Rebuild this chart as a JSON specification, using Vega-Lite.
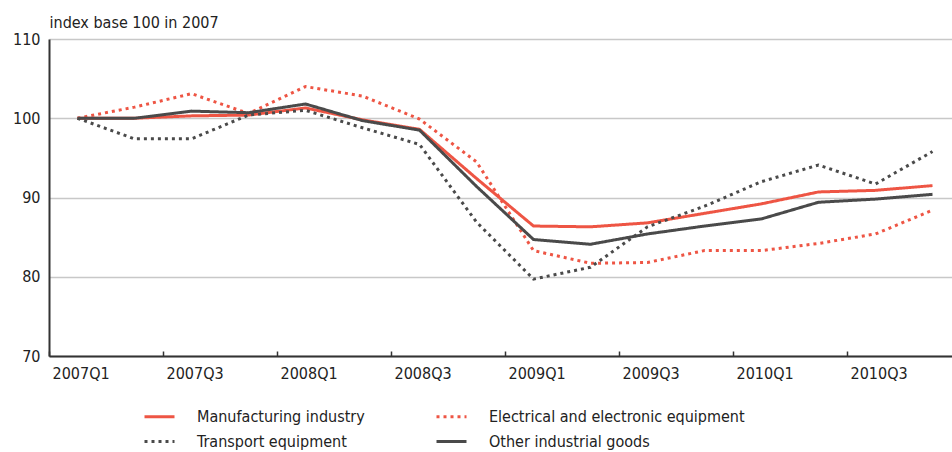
{
  "$schema": "https://vega.github.io/schema/vega-lite/v6.json",
  "width": 903,
  "height": 317,
  "autosize": "none",
  "padding": {"left": 49, "top": 39, "right": 0, "bottom": 96},
  "background": "white",
  "config": {
    "view": {"stroke": null},
    "font": "DejaVu Sans Condensed, sans-serif",
    "legend": {
      "orient": "none",
      "legendX": 94,
      "legendY": 361,
      "columns": 2,
      "direction": "horizontal",
      "symbolType": "stroke",
      "symbolSize": 900,
      "symbolStrokeWidth": 3,
      "labelFontSize": 16,
      "labelColor": "#222222",
      "labelFont": "DejaVu Sans Condensed, sans-serif",
      "labelOffset": 21,
      "columnPadding": 65,
      "rowPadding": -2,
      "labelLimit": 400
    }
  },
  "data": {
    "values": [
      {"q": "2007Q1", "series": "Manufacturing industry", "v": 100},
      {"q": "2007Q2", "series": "Manufacturing industry", "v": 100},
      {"q": "2007Q3", "series": "Manufacturing industry", "v": 100.3},
      {"q": "2007Q4", "series": "Manufacturing industry", "v": 100.4},
      {"q": "2008Q1", "series": "Manufacturing industry", "v": 101.3},
      {"q": "2008Q2", "series": "Manufacturing industry", "v": 99.8},
      {"q": "2008Q3", "series": "Manufacturing industry", "v": 98.6},
      {"q": "2008Q4", "series": "Manufacturing industry", "v": 92.4},
      {"q": "2009Q1", "series": "Manufacturing industry", "v": 86.4},
      {"q": "2009Q2", "series": "Manufacturing industry", "v": 86.3},
      {"q": "2009Q3", "series": "Manufacturing industry", "v": 86.8},
      {"q": "2009Q4", "series": "Manufacturing industry", "v": 88.0},
      {"q": "2010Q1", "series": "Manufacturing industry", "v": 89.2},
      {"q": "2010Q2", "series": "Manufacturing industry", "v": 90.7},
      {"q": "2010Q3", "series": "Manufacturing industry", "v": 90.9},
      {"q": "2010Q4", "series": "Manufacturing industry", "v": 91.5},

      {"q": "2007Q1", "series": "Electrical and electronic equipment", "v": 100},
      {"q": "2007Q2", "series": "Electrical and electronic equipment", "v": 101.4},
      {"q": "2007Q3", "series": "Electrical and electronic equipment", "v": 103.1},
      {"q": "2007Q4", "series": "Electrical and electronic equipment", "v": 100.6},
      {"q": "2008Q1", "series": "Electrical and electronic equipment", "v": 104.0},
      {"q": "2008Q2", "series": "Electrical and electronic equipment", "v": 102.8},
      {"q": "2008Q3", "series": "Electrical and electronic equipment", "v": 99.9},
      {"q": "2008Q4", "series": "Electrical and electronic equipment", "v": 94.5},
      {"q": "2009Q1", "series": "Electrical and electronic equipment", "v": 83.3},
      {"q": "2009Q2", "series": "Electrical and electronic equipment", "v": 81.7},
      {"q": "2009Q3", "series": "Electrical and electronic equipment", "v": 81.8},
      {"q": "2009Q4", "series": "Electrical and electronic equipment", "v": 83.3},
      {"q": "2010Q1", "series": "Electrical and electronic equipment", "v": 83.3},
      {"q": "2010Q2", "series": "Electrical and electronic equipment", "v": 84.2},
      {"q": "2010Q3", "series": "Electrical and electronic equipment", "v": 85.4},
      {"q": "2010Q4", "series": "Electrical and electronic equipment", "v": 88.4},

      {"q": "2007Q1", "series": "Transport equipment", "v": 100},
      {"q": "2007Q2", "series": "Transport equipment", "v": 97.4},
      {"q": "2007Q3", "series": "Transport equipment", "v": 97.4},
      {"q": "2007Q4", "series": "Transport equipment", "v": 100.4},
      {"q": "2008Q1", "series": "Transport equipment", "v": 101.0},
      {"q": "2008Q2", "series": "Transport equipment", "v": 98.8},
      {"q": "2008Q3", "series": "Transport equipment", "v": 96.7},
      {"q": "2008Q4", "series": "Transport equipment", "v": 86.9},
      {"q": "2009Q1", "series": "Transport equipment", "v": 79.7},
      {"q": "2009Q2", "series": "Transport equipment", "v": 81.2},
      {"q": "2009Q3", "series": "Transport equipment", "v": 86.3},
      {"q": "2009Q4", "series": "Transport equipment", "v": 88.9},
      {"q": "2010Q1", "series": "Transport equipment", "v": 92.0},
      {"q": "2010Q2", "series": "Transport equipment", "v": 94.1},
      {"q": "2010Q3", "series": "Transport equipment", "v": 91.7},
      {"q": "2010Q4", "series": "Transport equipment", "v": 95.8},

      {"q": "2007Q1", "series": "Other industrial goods", "v": 100},
      {"q": "2007Q2", "series": "Other industrial goods", "v": 100},
      {"q": "2007Q3", "series": "Other industrial goods", "v": 100.9},
      {"q": "2007Q4", "series": "Other industrial goods", "v": 100.7},
      {"q": "2008Q1", "series": "Other industrial goods", "v": 101.8},
      {"q": "2008Q2", "series": "Other industrial goods", "v": 99.7},
      {"q": "2008Q3", "series": "Other industrial goods", "v": 98.5},
      {"q": "2008Q4", "series": "Other industrial goods", "v": 91.4},
      {"q": "2009Q1", "series": "Other industrial goods", "v": 84.7},
      {"q": "2009Q2", "series": "Other industrial goods", "v": 84.1},
      {"q": "2009Q3", "series": "Other industrial goods", "v": 85.4},
      {"q": "2009Q4", "series": "Other industrial goods", "v": 86.4},
      {"q": "2010Q1", "series": "Other industrial goods", "v": 87.3},
      {"q": "2010Q2", "series": "Other industrial goods", "v": 89.4},
      {"q": "2010Q3", "series": "Other industrial goods", "v": 89.8},
      {"q": "2010Q4", "series": "Other industrial goods", "v": 90.4}
    ]
  },
  "mark": {"type": "line", "strokeWidth": 3},
  "encoding": {
    "x": {
      "field": "q",
      "type": "ordinal",
      "scale": {"type": "band", "range": [0, 912], "paddingInner": 0, "paddingOuter": 0},
      "axis": {
        "title": null,
        "values": ["2007Q1", "2007Q3", "2008Q1", "2008Q3", "2009Q1", "2009Q3", "2010Q1", "2010Q3"],
        "bandPosition": 0,
        "labelAngle": 0,
        "labelAlign": "left",
        "labelBaseline": "top",
        "labelOffset": -25,
        "labelPadding": 14,
        "labelFontSize": 16,
        "labelColor": "#222222",
        "domainColor": "#333333",
        "domainWidth": 2,
        "tickColor": "#333333",
        "tickWidth": 1.5,
        "tickSize": -5,
        "grid": false
      }
    },
    "y": {
      "field": "v",
      "type": "quantitative",
      "scale": {"domain": [70, 110], "nice": false, "zero": false},
      "axis": {
        "values": [70, 80, 90, 100, 110],
        "title": "index base 100 in 2007",
        "titleAngle": 0,
        "titleAlign": "left",
        "titleBaseline": "alphabetic",
        "titleX": 0,
        "titleY": -12,
        "titleFontSize": 16,
        "titleFontWeight": "normal",
        "titleColor": "#222222",
        "labelFontSize": 16,
        "labelColor": "#222222",
        "labelPadding": 9,
        "ticks": false,
        "domainColor": "#333333",
        "domainWidth": 2,
        "grid": true,
        "gridColor": "#c8c8c8",
        "gridWidth": 1.5
      }
    },
    "color": {
      "field": "series",
      "type": "nominal",
      "scale": {
        "domain": ["Manufacturing industry", "Electrical and electronic equipment", "Transport equipment", "Other industrial goods"],
        "range": ["#ee5544", "#ee5544", "#4a4a4a", "#4a4a4a"]
      },
      "legend": {"title": null}
    },
    "strokeDash": {
      "field": "series",
      "type": "nominal",
      "scale": {
        "domain": ["Manufacturing industry", "Electrical and electronic equipment", "Transport equipment", "Other industrial goods"],
        "range": [[1, 0], [3, 4], [3, 4], [1, 0]]
      },
      "legend": {"title": null}
    }
  }
}
